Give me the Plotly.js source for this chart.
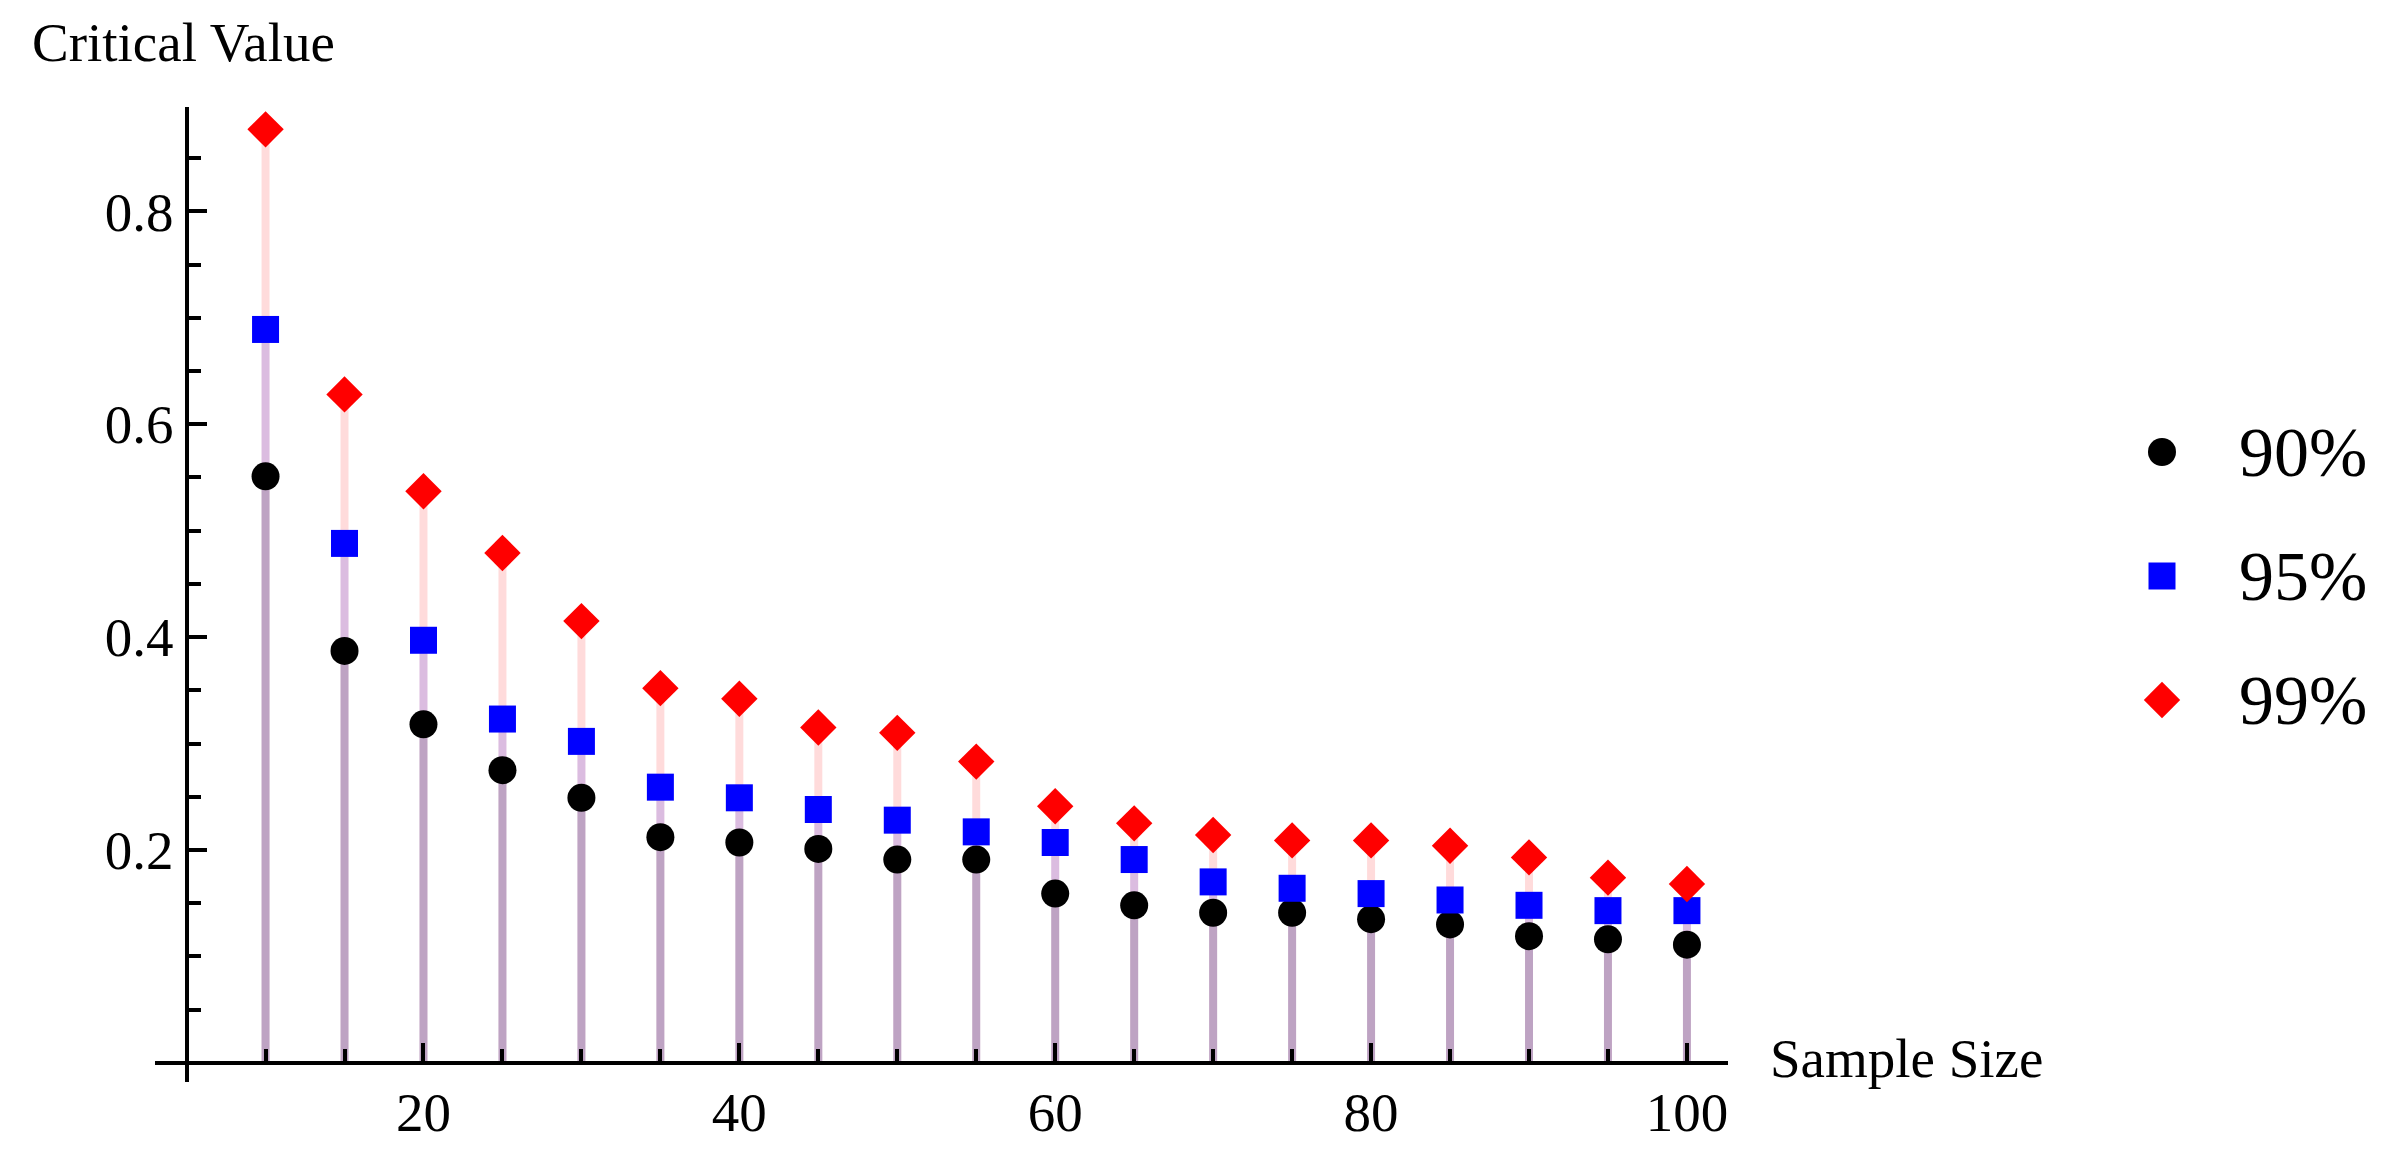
<!DOCTYPE html>
<html>
<head>
<meta charset="utf-8">
<script src="https://cdn.plot.ly/plotly-3.0.1.min.js"></script>
<style>body{margin:0;background:#fff}</style>
</head>
<body>
<div id="myDiv" style="width:2381px;height:1149px"></div>
<script>
// values
var sampleSize = [10,15,20,25,30,35,40,45,50,55,60,65,70,75,80,85,90,95,100];
var cv90 = [0.551,0.387,0.318,0.275,0.249,0.212,0.207,0.201,0.191,0.191,0.159,0.148,0.141,0.141,0.135,0.130,0.119,0.116,0.111];
var cv95 = [0.689,0.488,0.397,0.323,0.302,0.259,0.249,0.238,0.228,0.217,0.207,0.191,0.170,0.164,0.159,0.153,0.148,0.143,0.143];
var cv99 = [0.877,0.628,0.537,0.479,0.415,0.352,0.342,0.315,0.310,0.283,0.241,0.225,0.214,0.209,0.209,0.204,0.193,0.174,0.168];
var levelNames = ['90%','95%','99%'];
var xTicks = [20,40,60,80,100];
var yTicks = [0.2,0.4,0.6,0.8];

var W = 2381, H = 1149;
var M = {l:155, r:0, t:107, b:67};
var plotW = W - M.l - M.r;
var plotH = H - M.t - M.b;
var xRange = [3, 102.6];
var yRange = [-0.018, 0.898];
var xEnd = (1728 - M.l) / plotW;
var font = 'Liberation Serif, Times New Roman, serif';

// pixel -> paper, for text sitting in the margins
function paperX(px){ return (px - M.l) / plotW; }
function paperY(py){ return (H - M.b - py) / plotH; }

var series = [
  {vals: cv90, color: '#000000', fill: 'rgba(0,0,0,0.13)', symbol: 'circle', size: 28},
  {vals: cv95, color: '#0000ff', fill: 'rgba(0,0,255,0.14)', symbol: 'square', size: 27},
  {vals: cv99, color: '#ff0000', fill: 'rgba(255,0,0,0.14)', symbol: 'diamond', size: 28}
];

function stems(vals){
  var xs = [], ys = [];
  for (var i = 0; i < sampleSize.length; i++){
    xs.push(sampleSize[i], sampleSize[i], null);
    ys.push(0, vals[i], null);
  }
  return {x: xs, y: ys};
}

var data = [];
// filling to the axis, drawn back to front
for (var k = series.length - 1; k >= 0; k--){
  var s = stems(series[k].vals);
  data.push({x: s.x, y: s.y, mode: 'lines', type: 'scatter',
    line: {color: series[k].fill, width: 8}, hoverinfo: 'skip', showlegend: false});
}
series.forEach(function(sr, k){
  data.push({x: sampleSize, y: sr.vals, mode: 'markers', type: 'scatter', name: levelNames[k],
    marker: {color: sr.color, symbol: sr.symbol, size: sr.size}, showlegend: false});
});

// hand made legend, pixel space on x2/y2
var legX = 2162, legTop = 452, legGap = 124, legTextX = 2237;
series.forEach(function(sr, k){
  data.push({x: [legX], y: [legTop + k*legGap], xaxis: 'x2', yaxis: 'y2', mode: 'markers', type: 'scatter',
    marker: {color: sr.color, symbol: sr.symbol, size: sr.size}, showlegend: false, hoverinfo: 'skip'});
});

var annotations = levelNames.map(function(n, k){
  return {text: n, xref: 'x2', yref: 'y2', x: legTextX, y: legTop + k*legGap, xanchor: 'left', yanchor: 'middle',
    showarrow: false, font: {family: font, size: 70, color: '#000'}};
});
annotations.push({text: 'Critical Value', xref: 'paper', yref: 'paper', x: paperX(30), y: paperY(42),
  xanchor: 'left', yanchor: 'middle', showarrow: false, font: {family: font, size: 55, color: '#000'}});
annotations.push({text: 'Sample Size', xref: 'paper', yref: 'paper', x: paperX(1768), y: paperY(1058),
  xanchor: 'left', yanchor: 'middle', showarrow: false, font: {family: font, size: 55, color: '#000'}});

var layout = {
  width: W, height: H,
  margin: M,
  paper_bgcolor: '#fff', plot_bgcolor: 'rgba(0,0,0,0)',
  showlegend: false,
  xaxis: {
    domain: [0, xEnd], range: xRange, anchor: 'free',
    position: (0 - yRange[0]) / (yRange[1] - yRange[0]),
    showline: true, linecolor: '#000', linewidth: 4,
    showgrid: false, zeroline: false,
    tickvals: xTicks, ticks: 'inside', ticklen: 18, tickwidth: 4, tickcolor: '#000',
    minor: {dtick: 5, tick0: 0, ticks: 'inside', ticklen: 12, tickwidth: 4, tickcolor: '#000'},
    tickfont: {family: font, size: 55, color: '#000'}
  },
  yaxis: {
    domain: [0, 1], range: yRange, anchor: 'free',
    position: xEnd * (5 - xRange[0]) / (xRange[1] - xRange[0]),
    showline: true, linecolor: '#000', linewidth: 4,
    showgrid: false, zeroline: false,
    tickvals: yTicks, ticks: 'inside', ticklen: 18, tickwidth: 4, tickcolor: '#000',
    minor: {dtick: 0.05, tick0: 0, ticks: 'inside', ticklen: 12, tickwidth: 4, tickcolor: '#000'},
    tickfont: {family: font, size: 55, color: '#000'}
  },
  xaxis2: {domain: [0, 1], range: [M.l, W], visible: false, anchor: 'y2'},
  yaxis2: {domain: [0, 1], range: [H - M.b, M.t], visible: false, anchor: 'x2'},
  annotations: annotations
};

Plotly.newPlot('myDiv', data, layout, {staticPlot: true, displayModeBar: false});
</script>
</body>
</html>
